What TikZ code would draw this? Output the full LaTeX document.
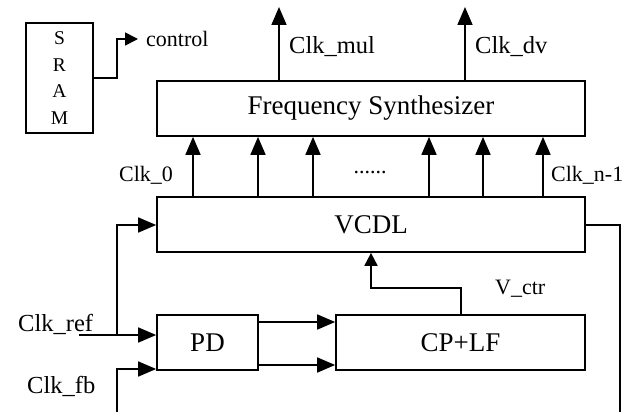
\documentclass[tikz,border=0pt]{standalone}
\usepackage{fontspec}
\setmainfont{Liberation Serif}
\usetikzlibrary{arrows.meta}
\begin{document}
\begin{tikzpicture}[x=1pt,y=-1pt,
  blk/.style={draw,line width=1.7pt,minimum height=55pt,inner sep=0pt,font=\fontsize{27}{30}\selectfont},
  wire/.style={line width=1.7pt},
  arr/.style={wire,-{Triangle[length=18pt,width=15pt]}},
  sarr/.style={wire,-{Triangle[length=13pt,width=13pt]}},
  lbl/.style={inner sep=0pt,font=\fontsize{24.5}{28}\selectfont},
  slbl/.style={inner sep=0pt,font=\fontsize{22}{26}\selectfont}]
\useasboundingbox (0,0) rectangle (631,412);
% blocks
\node[blk,minimum width=67pt,minimum height=110pt,align=center,font=\fontsize{19.5}{26.5}\selectfont] (sram) at (59.5,78) {S\\R\\A\\M};
\node[blk,minimum width=428pt] (fs) at (371,108.5) {Frequency Synthesizer};
\node[blk,minimum width=428pt] (vcdl) at (371,224.5) {VCDL};
\node[blk,minimum width=101pt] (pd) at (207.5,342.5) {PD};
\node[blk,minimum width=249pt] (cp) at (460.5,342.5) {CP+LF};
% control
\coordinate (ctl) at (138,39);
\draw[sarr] (sram.east |- 0,78) -| (117,58) |- (ctl);
\node[slbl,anchor=west] (ctltxt) at (146,39) {control};
% outputs
\coordinate (omul) at (279,7);
\coordinate (odv) at (465,7);
\draw[arr] (279,0 |- fs.north) -- (omul);
\draw[arr] (465,0 |- fs.north) -- (odv);
\node[lbl,anchor=base west] (lmul) at (289,53) {Clk\_mul};
\node[lbl,anchor=base west] (ldv) at (475,53) {Clk\_dv};
% vcdl -> fs
\foreach \xx in {193,258,313,429,483,543}
  \draw[arr] (\xx,0 |- vcdl.north) -- (\xx,0 |- fs.south);
\node[slbl,anchor=base west] (l0) at (119,181) {Clk\_0};
\node[slbl,anchor=base west] (ln) at (551,181) {Clk\_n-1};
\node[slbl,anchor=base] (dots) at (370,173) {......};
% clk_ref
\coordinate (cref) at (79,335);
\draw[arr] (cref) -- (pd.west |- 0,335);
\draw[arr] (117,335) |- (vcdl.west |- 0,225);
\node[lbl,anchor=base west] (lref) at (18,331) {Clk\_ref};
% clk_fb
\coordinate (cfb) at (117,412);
\draw[arr] (cfb) |- (pd.west |- 0,369);
\node[lbl,anchor=base west] (lfb) at (27,393) {Clk\_fb};
% pd -> cp
\draw[arr] (pd.east |- 0,322) -- (cp.west |- 0,322);
\draw[arr] (pd.east |- 0,365) -- (cp.west |- 0,365);
% v_ctr
\draw[sarr] (461,0 |- cp.north) |- (371,288) -- (371,0 |- vcdl.south);
\node[slbl,anchor=base west] (lv) at (495,294) {V\_ctr};
% feedback
\coordinate (fb) at (620,412);
\draw[wire] (vcdl.east |- 0,225) -| (fb);
\end{tikzpicture}
\end{document}
